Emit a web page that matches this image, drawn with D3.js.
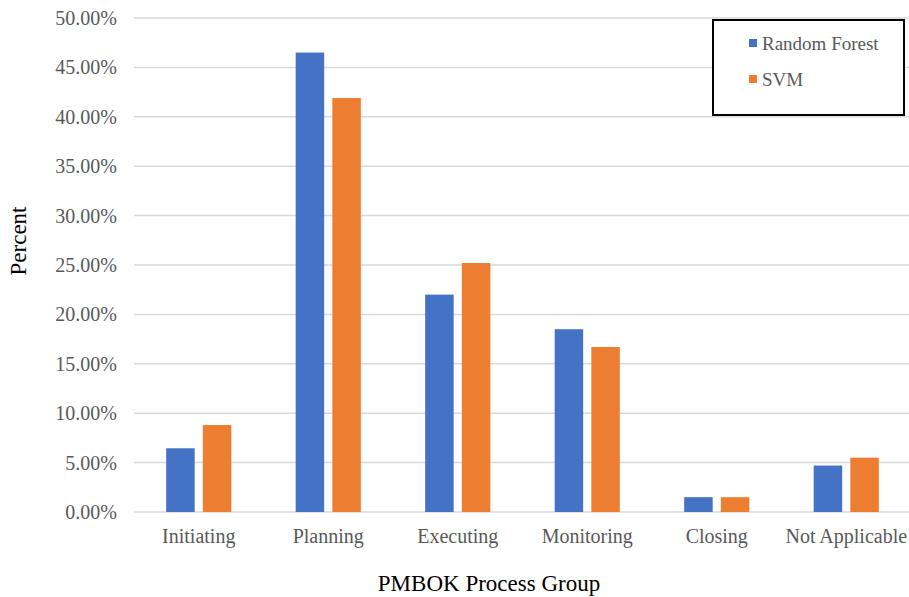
<!DOCTYPE html>
<html>
<head>
<meta charset="utf-8">
<script src="https://cdn.jsdelivr.net/npm/d3@7"></script>
<style>
  html, body { margin: 0; padding: 0; background: #fff; }
  svg { display: block; }
</style>
</head>
<body>
<svg id="chart" width="909" height="597"></svg>
<script>
// Share of items per PMBOK process group, by classifier
const categories = ["Initiating", "Planning", "Executing", "Monitoring", "Closing", "Not Applicable"];
const seriesNames = ["Random Forest", "SVM"];
const randomForest = [6.45, 46.5, 22.0, 18.5, 1.5, 4.7];
const svm = [8.8, 41.9, 25.2, 16.7, 1.5, 5.5];
const yTicks = [0, 5, 10, 15, 20, 25, 30, 35, 40, 45, 50];
const colors = ["#4472C4", "#ED7D31"];

const seriesValues = [randomForest, svm];
const svg = d3.select("#chart");
const plot = { left: 134, right: 911, top: 18, bottom: 512 };

const x = d3.scaleBand().domain(categories).range([plot.left, plot.right]);
const y = d3.scaleLinear().domain([0, 50]).range([plot.bottom, plot.top]);

// Two bars per category with a small gap between them
const barW = x.bandwidth() * 0.22;
const barGap = x.bandwidth() * 0.063;
const inner = d3.scaleBand().domain(seriesNames)
  .range([x.bandwidth() / 2 - barW - barGap / 2, x.bandwidth() / 2 + barW + barGap / 2])
  .paddingInner(barGap / (barW + barGap));

// Horizontal gridlines
svg.append("g")
  .selectAll("line")
  .data(yTicks)
  .join("line")
  .attr("x1", plot.left)
  .attr("x2", plot.right)
  .attr("y1", d => y(d))
  .attr("y2", d => y(d))
  .attr("stroke", "#d9d9d9")
  .attr("stroke-width", 1.5);

// Y axis tick labels
const yAxis = d3.axisLeft(y).tickValues(yTicks).tickSize(0).tickPadding(17)
  .tickFormat(d => d.toFixed(2) + "%");
const gy = svg.append("g").attr("transform", `translate(${plot.left},0)`).call(yAxis);
gy.select(".domain").remove();
gy.selectAll("text")
  .attr("font-family", "'Liberation Serif', 'Times New Roman', serif")
  .attr("font-size", 20)
  .attr("fill", "#595959");

// Category labels
const xAxis = d3.axisBottom(x).tickSize(0).tickPadding(17);
const gx = svg.append("g").attr("transform", `translate(0,${plot.bottom})`).call(xAxis);
gx.select(".domain").remove();
gx.selectAll("text")
  .attr("font-family", "'Liberation Serif', 'Times New Roman', serif")
  .attr("font-size", 20)
  .attr("fill", "#595959");

// Bars
const rows = categories.map((c, i) => ({ cat: c, vals: seriesNames.map((s, j) => ({ s, j, v: seriesValues[j][i] })) }));
svg.append("g")
  .selectAll("g")
  .data(rows)
  .join("g")
  .attr("transform", d => `translate(${x(d.cat)},0)`)
  .selectAll("rect")
  .data(d => d.vals)
  .join("rect")
  .attr("x", d => inner(d.s))
  .attr("width", inner.bandwidth())
  .attr("y", d => y(d.v))
  .attr("height", d => y(0) - y(d.v))
  .attr("fill", d => colors[d.j]);

// Axis titles
svg.append("text")
  .attr("x", 489).attr("y", 591)
  .attr("text-anchor", "middle")
  .attr("font-family", "'Liberation Serif', 'Times New Roman', serif")
  .attr("font-size", 23)
  .attr("fill", "#000")
  .text("PMBOK Process Group");

svg.append("text")
  .attr("transform", "translate(26,241) rotate(-90)")
  .attr("text-anchor", "middle")
  .attr("font-family", "'Liberation Serif', 'Times New Roman', serif")
  .attr("font-size", 23)
  .attr("fill", "#000")
  .text("Percent");

// Legend
const legend = svg.append("g");
legend.append("rect")
  .attr("x", 713).attr("y", 20)
  .attr("width", 191).attr("height", 95)
  .attr("fill", "#fff")
  .attr("stroke", "#000")
  .attr("stroke-width", 2);
const items = legend.selectAll("g.item")
  .data(seriesNames)
  .join("g")
  .attr("class", "item")
  .attr("transform", (d, i) => `translate(749,${39 + i * 36})`);
items.append("rect")
  .attr("width", 8).attr("height", 8)
  .attr("fill", (d, i) => colors[i]);
items.append("text")
  .attr("x", 13).attr("y", 10.5)
  .attr("font-family", "'Liberation Serif', 'Times New Roman', serif")
  .attr("font-size", 19)
  .attr("fill", "#595959")
  .text(d => d);
</script>
</body>
</html>
